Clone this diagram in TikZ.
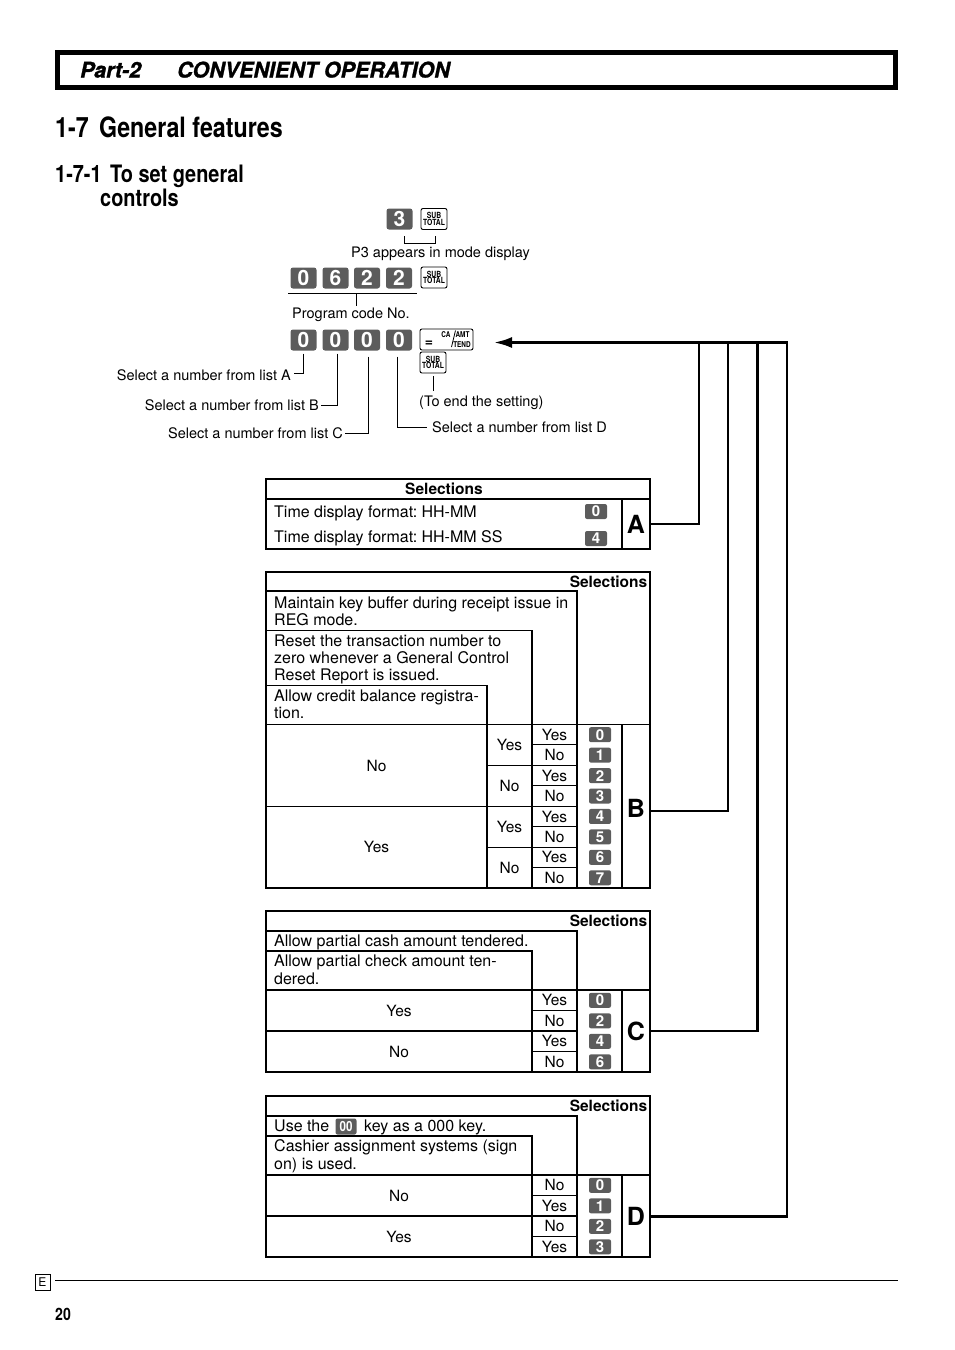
\documentclass[tikz,border=0pt]{standalone}
\usepackage{fontspec}
\setmainfont{TeX Gyre Heros}
\newfontfamily\condfont[FakeStretch=0.83]{TeX Gyre Heros}
\newfontfamily\tinyfont[FakeStretch=0.8]{TeX Gyre Heros}
\newfontfamily\heavyfont[FakeBold=1.2]{TeX Gyre Heros}
\usetikzlibrary{arrows.meta}
\definecolor{keygray}{HTML}{5C5C5C}
\frenchspacing
\tikzset{
  body/.style={inner sep=0pt, anchor=base west, font=\fontsize{16}{17.5}\selectfont},
  bodyc/.style={inner sep=0pt, anchor=base, font=\fontsize{15.5}{17.5}\selectfont},
  selhead/.style={inner sep=0pt, font=\fontsize{15.5}{17.5}\bfseries\selectfont},
  instr/.style={inner sep=0pt, font=\fontsize{14.5}{16}\selectfont},
  bigkey/.style={fill=keygray, rounded corners=2.5pt, text=white, inner sep=0pt,
    minimum width=26pt, minimum height=21pt, font=\fontsize{21}{21}\bfseries\selectfont},
  tkey/.style={fill=keygray, rounded corners=2pt, text=white, inner sep=0pt,
    minimum width=22pt, minimum height=15pt, font=\fontsize{15}{15}\bfseries\selectfont},
  fkey/.style={draw, line width=0.9pt, rounded corners=2pt, inner sep=0pt,
    minimum width=26pt, minimum height=21pt, align=center,
    font=\fontsize{8.5}{7.5}\tinyfont\bfseries\selectfont},
  tinytxt/.style={inner sep=0pt, font=\fontsize{8}{8}\tinyfont\bfseries\selectfont},
  thinln/.style={line width=1pt},
  frameln/.style={line width=1.6pt},
  conn/.style={line width=2.6pt},
  letter/.style={inner sep=0pt, minimum width=28pt, font=\fontsize{25}{25}\bfseries\selectfont},
}
\begin{document}
\begin{tikzpicture}[x=1pt,y=-1pt]
\useasboundingbox (0,0) rectangle (954,1350);

% ---------- header ----------
\draw[line width=4.6pt] (57.3,52.3) rectangle (895.7,87.7);
\node[inner sep=0pt, anchor=base west, font=\fontsize{21.5}{21.5}\heavyfont\bfseries\itshape\selectfont] (hpart) at (80,77.5) {Part-2};
\node[inner sep=0pt, anchor=base west, font=\fontsize{21.5}{21.5}\heavyfont\bfseries\itshape\selectfont] (hconv) at (177,77.5) {CONVENIENT OPERATION};

\node[inner sep=0pt, anchor=base west, font=\fontsize{28}{28}\condfont\bfseries\selectfont] (h17) at (55,137) {1-7\hspace{4pt} General features};
\node[inner sep=0pt, anchor=base west, font=\fontsize{24}{24}\condfont\bfseries\selectfont] (h171) at (55,182) {1-7-1\hspace{3pt} To set general};
\node[inner sep=0pt, anchor=base west, font=\fontsize{24}{24}\condfont\bfseries\selectfont] (h171b) at (100,206) {controls};

% ---------- key sequence ----------
\node[bigkey] (k1) at (399.5,219) {3};
\node[fkey] (s1) at (434,219) {SUB\\[-1pt]TOTAL};
\draw[thinln] (404,236) -- (404,243) -- (435,243) -- (435,236);
\node[instr, anchor=base west] (p3) at (351,257.5) {P3 appears in mode display};

\node[bigkey] (k2a) at (303.5,278) {0};
\node[bigkey] (k2b) at (335.5,278) {6};
\node[bigkey] (k2c) at (367,278) {2};
\node[bigkey] (k2d) at (399,278) {2};
\node[fkey] (s2) at (434,277.5) {SUB\\[-1pt]TOTAL};
\draw[thinln] (288,293) -- (417,293);
\draw[thinln] (356,293) -- (356,306);
\node[instr, anchor=base west] (pcn) at (292,318.5) {Program code No.};

\node[bigkey] (k3a) at (303.5,340) {0};
\node[bigkey] (k3b) at (335.5,340) {0};
\node[bigkey] (k3c) at (367,340) {0};
\node[bigkey] (k3d) at (399,340) {0};
\node[fkey, minimum width=53pt] (ca) at (446.5,339.5) {};
\node[inner sep=0pt, font=\fontsize{14}{14}\bfseries\selectfont] (caeq) at (429,343.5) {=};
\node[tinytxt] (cat1) at (446,334.5) {CA};
\node[tinytxt] (cat2) at (462.5,334.5) {AMT};
\node[tinytxt] (cat3) at (462,344.5) {TEND};
\draw[line width=0.8pt] (451.5,347) -- (455.5,330.5);
\node[fkey] (s3) at (433,362.5) {SUB\\[-1pt]TOTAL};

\node[instr, anchor=base east] (selA) at (291,380.5) {Select a number from list A};
\node[instr, anchor=base east] (selB) at (319,410.5) {Select a number from list B};
\node[instr, anchor=base east] (selC) at (343,438.5) {Select a number from list C};
\node[instr, anchor=base west] (selD) at (432,432.5) {Select a number from list D};
\node[instr, anchor=base west] (endset) at (419,406) {(To end the setting)};

\coordinate (lA) at (294,373.5);
\coordinate (lB) at (321,405);
\coordinate (lC) at (345,433);
\coordinate (lD) at (427,427.5);
\coordinate (lE) at (433,391);
\draw[thinln] ([yshift=-3pt]k3a.south) |- (lA);
\draw[thinln] ([xshift=1.5pt,yshift=-3pt]k3b.south) |- (lB);
\draw[thinln] ([xshift=1pt,yshift=-6pt]k3c.south) |- (lC);
\draw[thinln] ([xshift=-2pt,yshift=-6pt]k3d.south) |- (lD);
\draw[thinln] ([yshift=-3pt]s3.south) -- (lE);

% ---------- table A ----------
\draw[frameln] (266,479) rectangle (650,549);
\draw[frameln] (266,499) -- (650,499);
\draw[frameln] (622,499) -- (622,549);
\node[selhead, anchor=base] (selhA) at (444,494.5) {Selections};
\node[body] (ta1) at (274,517.5) {Time display format: HH-MM};
\node[body] (ta2) at (274,542.5) {Time display format: HH-MM SS};
\node[tkey] (ak0) at (596,511.5) {0};
\node[tkey] (ak4) at (596,538.5) {4};
\node[letter, minimum height=50pt] (Acell) at (636,524) {A};

% ---------- table B ----------
\draw[frameln] (266,572) rectangle (650,888);
\draw[frameln] (266,591) -- (577,591) -- (577,888);
\draw[frameln] (266,630.5) -- (532,630.5) -- (532,888);
\draw[frameln] (266,685.5) -- (487,685.5) -- (487,888);
\draw[frameln] (266,724.5) -- (650,724.5);
\draw[frameln] (622,724.5) -- (622,888);
\draw[frameln] (266,806.3) -- (577,806.3);
\draw[thinln] (487,765.4) -- (577,765.4);
\draw[thinln] (487,847.1) -- (577,847.1);
\foreach \yy in {744.9,785.8,826.7,867.6} \draw[thinln] (532,\yy) -- (577,\yy);
\node[selhead, anchor=base east] (selhB) at (647.5,587) {Selections};
\node[body] (tb1) at (274,608.3) {Maintain key buffer during receipt issue in};
\node[body] (tb2) at (274,625.5) {REG mode.};
\node[body] (tb3) at (274,646) {Reset the transaction number to};
\node[body] (tb4) at (274,663.3) {zero whenever a General Control};
\node[body] (tb5) at (274,680.7) {Reset Report is issued.};
\node[body] (tb6) at (274,701.5) {Allow credit balance registra-};
\node[body] (tb7) at (274,718.5) {tion.};
\node[bodyc] (bbig0) at (376.5,771) {No};
\node[bodyc] (bbig1) at (376.5,852.7) {Yes};
\node[bodyc] (bmid0) at (509.5,750.3) {Yes};
\node[bodyc] (bmid1) at (509.5,791.2) {No};
\node[bodyc] (bmid2) at (509.5,832.1) {Yes};
\node[bodyc] (bmid3) at (509.5,873) {No};
\foreach \t [count=\i from 0] in {Yes,No,Yes,No,Yes,No,Yes,No}
  \node[bodyc] (bsm\i) at (554.5,{740.3+20.44*\i}) {\t};
\foreach \d [count=\i from 0] in {0,1,2,3,4,5,6,7}
  \node[tkey] (bk\i) at (600,{734.7+20.44*\i}) {\d};
\node[letter, minimum height=50pt] (Bcell) at (636,808) {B};

% ---------- table C ----------
\draw[frameln] (266,911) rectangle (650,1072);
\draw[frameln] (266,931) -- (577,931) -- (577,1072);
\draw[frameln] (266,951) -- (532,951) -- (532,1072);
\draw[frameln] (266,990) -- (650,990);
\draw[frameln] (622,990) -- (622,1072);
\draw[frameln] (266,1031) -- (577,1031);
\draw[thinln] (532,1010.5) -- (577,1010.5);
\draw[thinln] (532,1051.5) -- (577,1051.5);
\node[selhead, anchor=base east] (selhC) at (647.5,926) {Selections};
\node[body] (tc1) at (274,946.5) {Allow partial cash amount tendered.};
\node[body] (tc2) at (274,966.5) {Allow partial check amount ten-};
\node[body] (tc3) at (274,984.5) {dered.};
\node[bodyc] (cbig0) at (399,1016.1) {Yes};
\node[bodyc] (cbig1) at (399,1057.1) {No};
\foreach \t [count=\i from 0] in {Yes,No,Yes,No}
  \node[bodyc] (csm\i) at (554.5,{1005.9+20.5*\i}) {\t};
\foreach \d [count=\i from 0] in {0,2,4,6}
  \node[tkey] (ck\i) at (600,{1000.3+20.5*\i}) {\d};
\node[letter, minimum height=50pt] (Ccell) at (636,1031) {C};

% ---------- table D ----------
\draw[frameln] (266,1096) rectangle (650,1257);
\draw[frameln] (266,1116) -- (577,1116) -- (577,1257);
\draw[frameln] (266,1136) -- (532,1136) -- (532,1257);
\draw[frameln] (266,1175) -- (650,1175);
\draw[frameln] (622,1175) -- (622,1257);
\draw[frameln] (266,1216) -- (577,1216);
\draw[thinln] (532,1195.5) -- (577,1195.5);
\draw[thinln] (532,1236.5) -- (577,1236.5);
\node[selhead, anchor=base east] (selhD) at (647.5,1111) {Selections};
\node[body] (td1) at (274,1131.5) {Use the};
\node[tkey, minimum width=21pt, minimum height=16pt, font=\fontsize{14}{14}\condfont\bfseries\selectfont] (dk00) at (346,1126.5) {00};
\node[body] (td1b) at (364,1131.5) {key as a 000 key.};
\node[body] (td2) at (274,1151.5) {Cashier assignment systems (sign};
\node[body] (td3) at (274,1169.5) {on) is used.};
\node[bodyc] (dbig0) at (399,1201.1) {No};
\node[bodyc] (dbig1) at (399,1242.1) {Yes};
\foreach \t [count=\i from 0] in {No,Yes,No,Yes}
  \node[bodyc] (dsm\i) at (554.5,{1190.9+20.5*\i}) {\t};
\foreach \d [count=\i from 0] in {0,1,2,3}
  \node[tkey] (dk\i) at (600,{1185.3+20.5*\i}) {\d};
\node[letter, minimum height=50pt] (Dcell) at (636,1216.5) {D};

% ---------- connectors ----------
\coordinate (hub) at (787,342.5);
\coordinate (arrowtip) at (494,342.5);
\coordinate (topA) at (699,342.5);
\coordinate (topB) at (728,342.5);
\coordinate (topC) at (757.5,342.5);
\draw[conn, -{Latex[length=18pt,width=11pt]}] (Dcell.east) -| (hub) -- (arrowtip);
\draw[conn] (Acell.east) -| (topA);
\draw[conn] ([yshift=-3pt]Bcell.east) -| (topB);
\draw[conn] (Ccell.east) -| (topC);

% ---------- footer ----------
\node[draw, line width=0.8pt, inner sep=0pt, minimum width=15pt, minimum height=16pt, font=\fontsize{12}{12}\selectfont] (ebox) at (42.5,1282) {E};
\draw[line width=1pt] (55,1280) -- (898,1280);
\node[inner sep=0pt, anchor=base west, font=\fontsize{17}{17}\condfont\bfseries\selectfont] (pnum) at (55,1320) {20};
\end{tikzpicture}
\end{document}
